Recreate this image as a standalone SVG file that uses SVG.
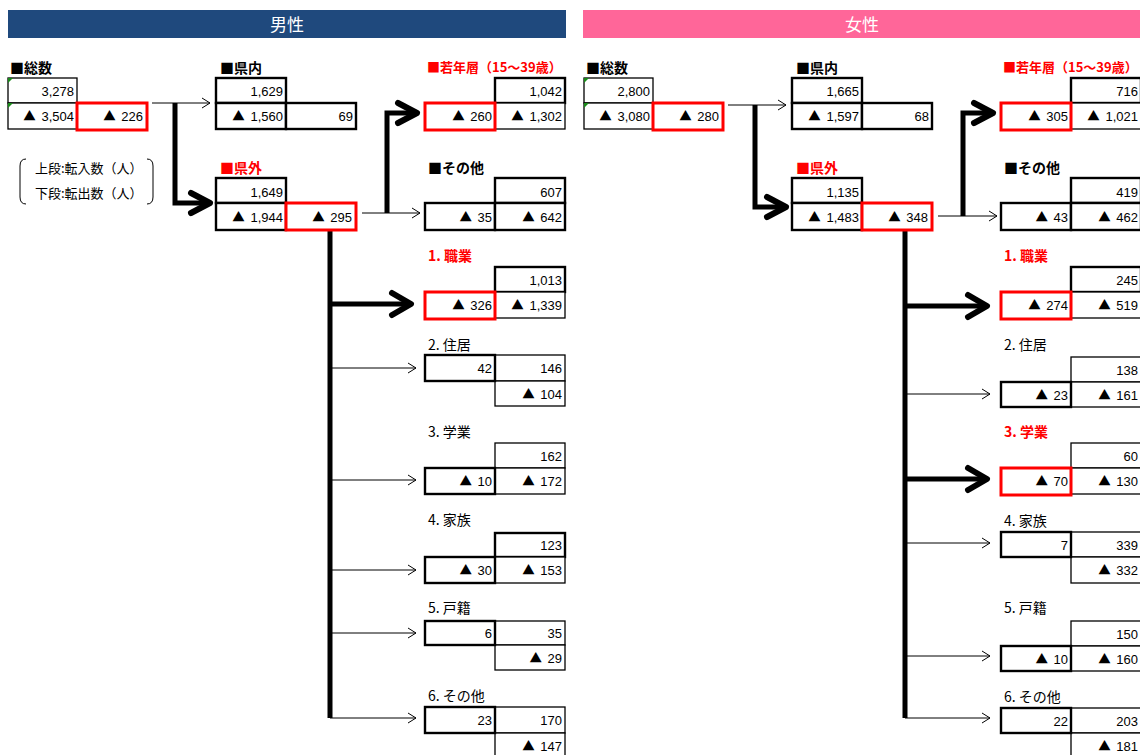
<svg xmlns="http://www.w3.org/2000/svg" width="1140" height="755" viewBox="0 0 1140 755">
<style>
.c{fill:#fff;stroke:#000;stroke-width:1.3}
.k{fill:#fff;stroke:#000;stroke-width:2.4}
.r{fill:#fff;stroke:#f00;stroke-width:3}
.n{font-family:"Liberation Sans","Noto Sans CJK JP",sans-serif;font-size:13px;text-anchor:end;fill:#000}
.tr{font-family:"Noto Sans CJK JP",sans-serif;font-size:12.5px;letter-spacing:2px}
.lb{font-family:"Noto Sans CJK JP",sans-serif;font-size:14px;font-weight:bold;fill:#000}
.lr{font-family:"Noto Sans CJK JP",sans-serif;font-size:14px;font-weight:bold;fill:#f00}
.ly{font-family:"Noto Sans CJK JP",sans-serif;font-size:13px;font-weight:bold;fill:#f00}
.ln{font-family:"Noto Sans CJK JP",sans-serif;font-size:14px;fill:#000}
.lg{font-family:"Noto Sans CJK JP",sans-serif;font-size:13px;fill:#000}
.hd{font-family:"Noto Sans CJK JP",sans-serif;font-size:17px;fill:#fff;text-anchor:middle}
.t{fill:none;stroke:#000;stroke-width:1}
.T{fill:none;stroke:#000;stroke-width:5}
.ch{fill:none;stroke:#000;stroke-width:6;stroke-linecap:round;stroke-linejoin:round}
.g{fill:#1a8a1a}
</style>
<rect x="8" y="10" width="558" height="28" fill="#1F497D"/>
<text class="hd" x="287" y="31">男性</text>
<rect x="583" y="10" width="557" height="28" fill="#FF6699"/>
<text class="hd" x="862" y="31">女性</text>

<g id="legend">
<path class="t" stroke="#444" d="M26,159 Q20,159 20,166 V197 Q20,204 26,204 M147,159 Q153,159 153,166 V197 Q153,204 147,204"/>
<text class="lg" x="35" y="173">上段:転入数（人）</text>
<text class="lg" x="35" y="198">下段:転出数（人）</text>
</g>

<g id="connectors">
<!-- male -->
<path class="t" d="M152,103 H210 M202,98 L210,103 L202,108"/>
<path class="T" d="M175,103 V203 H206"/>
<path class="ch" d="M191,193 L210,203 L191,213"/>
<path class="t" d="M362,213 H420 M412,208 L420,213 L412,218"/>
<path class="T" d="M387,213 V113 H414"/>
<path class="ch" d="M398,103 L417,113 L398,123"/>
<path class="T" d="M330,230 V718"/>
<path class="T" d="M330,304 H408"/>
<path class="ch" d="M392,293 L411,304 L392,315"/>
<path class="t" d="M330,368 H416 M408,363 L416,368 L408,373"/>
<path class="t" d="M330,480 H416 M408,475 L416,480 L408,485"/>
<path class="t" d="M330,570 H416 M408,565 L416,570 L408,575"/>
<path class="t" d="M330,633 H416 M408,628 L416,633 L408,638"/>
<path class="t" d="M330,718 H416 M408,713 L416,718 L408,723"/>
<!-- female -->
<path class="t" d="M728,105 H786 M778,100 L786,105 L778,110"/>
<path class="T" d="M755,105 V207 H782"/>
<path class="ch" d="M767,197 L786,207 L767,217"/>
<path class="t" d="M938,216 H997 M989,211 L997,216 L989,221"/>
<path class="T" d="M963,216 V113 H990"/>
<path class="ch" d="M974,103 L993,113 L974,123"/>
<path class="T" d="M905,230 V718"/>
<path class="T" d="M905,306 H984"/>
<path class="ch" d="M968,295 L987,306 L968,317"/>
<path class="t" d="M905,394 H990 M982,389 L990,394 L982,399"/>
<path class="T" d="M905,479 H984"/>
<path class="ch" d="M968,468 L987,479 L968,490"/>
<path class="t" d="M905,543 H990 M982,538 L990,543 L982,548"/>
<path class="t" d="M905,656 H990 M982,651 L990,656 L982,661"/>
<path class="t" d="M905,718 H990 M982,713 L990,718 L982,723"/>
</g>

<!-- ===== male nodes ===== -->
<g id="m-total">
<text class="lb" x="10" y="73">■総数</text>
<rect class="c" x="8" y="78" width="69" height="25"/>
<rect class="c" x="8" y="103" width="69" height="26"/>
<rect class="r" x="77" y="103" width="70" height="27"/>
<polygon class="g" points="8,78 13,78 8,83"/>
<polygon class="g" points="8,103 13,103 8,108"/>
<text class="n" x="74" y="96">3,278</text>
<text class="n" x="74" y="121"><tspan class="tr">▲</tspan> 3,504</text>
<text class="n" x="143" y="121"><tspan class="tr">▲</tspan> 226</text>
</g>
<g id="m-kennai">
<text class="lb" x="220" y="73">■県内</text>
<rect class="k" x="216" y="78" width="70" height="25"/>
<rect class="k" x="216" y="103" width="70" height="26"/>
<rect class="k" x="286" y="103" width="70" height="26"/>
<text class="n" x="283" y="96">1,629</text>
<text class="n" x="283" y="121"><tspan class="tr">▲</tspan> 1,560</text>
<text class="n" x="353" y="121">69</text>
</g>
<g id="m-kengai">
<text class="lr" x="220" y="173">■県外</text>
<rect class="k" x="216" y="178" width="70" height="25"/>
<rect class="k" x="216" y="203" width="70" height="27"/>
<rect class="r" x="286" y="203" width="70" height="27"/>
<text class="n" x="283" y="197">1,649</text>
<text class="n" x="283" y="222"><tspan class="tr">▲</tspan> 1,944</text>
<text class="n" x="352" y="222"><tspan class="tr">▲</tspan> 295</text>
</g>
<g id="m-young">
<text class="ly" x="427" y="72">■若年層（15～39歳）</text>
<rect class="k" x="495" y="78" width="70" height="25"/>
<rect class="c" x="495" y="103" width="70" height="26"/>
<rect class="r" x="425" y="103" width="70" height="27"/>
<text class="n" x="562" y="96">1,042</text>
<text class="n" x="492" y="121"><tspan class="tr">▲</tspan> 260</text>
<text class="n" x="562" y="121"><tspan class="tr">▲</tspan> 1,302</text>
</g>
<g id="m-other">
<text class="lb" x="428" y="173">■その他</text>
<rect class="k" x="495" y="178" width="70" height="25"/>
<rect class="k" x="425" y="203" width="70" height="27"/>
<rect class="k" x="495" y="203" width="70" height="27"/>
<text class="n" x="562" y="197">607</text>
<text class="n" x="492" y="222"><tspan class="tr">▲</tspan> 35</text>
<text class="n" x="562" y="222"><tspan class="tr">▲</tspan> 642</text>
</g>
<g id="m-job">
<text class="lr" x="428" y="261">1. 職業</text>
<rect class="k" x="495" y="267" width="70" height="25"/>
<rect class="c" x="495" y="292" width="70" height="26"/>
<rect class="r" x="425" y="292" width="70" height="27"/>
<text class="n" x="562" y="285">1,013</text>
<text class="n" x="492" y="310"><tspan class="tr">▲</tspan> 326</text>
<text class="n" x="562" y="310"><tspan class="tr">▲</tspan> 1,339</text>
</g>
<g id="m-house">
<text class="ln" x="428" y="350">2. 住居</text>
<rect class="c" x="495" y="355" width="70" height="26"/>
<rect class="c" x="495" y="381" width="70" height="25"/>
<rect class="k" x="425" y="355" width="70" height="26"/>
<text class="n" x="492" y="373">42</text>
<text class="n" x="562" y="373">146</text>
<text class="n" x="562" y="399"><tspan class="tr">▲</tspan> 104</text>
</g>
<g id="m-study">
<text class="ln" x="428" y="437">3. 学業</text>
<rect class="c" x="495" y="443" width="70" height="25"/>
<rect class="c" x="495" y="468" width="70" height="26"/>
<rect class="k" x="425" y="468" width="70" height="26"/>
<text class="n" x="562" y="461">162</text>
<text class="n" x="492" y="486"><tspan class="tr">▲</tspan> 10</text>
<text class="n" x="562" y="486"><tspan class="tr">▲</tspan> 172</text>
</g>
<g id="m-family">
<text class="ln" x="428" y="525">4. 家族</text>
<rect class="k" x="495" y="533" width="70" height="24"/>
<rect class="c" x="495" y="557" width="70" height="26"/>
<rect class="k" x="425" y="557" width="70" height="26"/>
<text class="n" x="562" y="550">123</text>
<text class="n" x="492" y="575"><tspan class="tr">▲</tspan> 30</text>
<text class="n" x="562" y="575"><tspan class="tr">▲</tspan> 153</text>
</g>
<g id="m-koseki">
<text class="ln" x="428" y="613">5. 戸籍</text>
<rect class="c" x="495" y="621" width="70" height="24"/>
<rect class="c" x="495" y="645" width="70" height="25"/>
<rect class="k" x="425" y="621" width="70" height="24"/>
<text class="n" x="492" y="638">6</text>
<text class="n" x="562" y="638">35</text>
<text class="n" x="562" y="663"><tspan class="tr">▲</tspan> 29</text>
</g>
<g id="m-etc">
<text class="ln" x="428" y="701">6. その他</text>
<rect class="c" x="495" y="707" width="70" height="26"/>
<rect class="c" x="495" y="733" width="70" height="25"/>
<rect class="k" x="425" y="707" width="70" height="26"/>
<text class="n" x="492" y="725">23</text>
<text class="n" x="562" y="725">170</text>
<text class="n" x="562" y="751"><tspan class="tr">▲</tspan> 147</text>
</g>

<!-- ===== female nodes ===== -->
<g id="f-total">
<text class="lb" x="586" y="73">■総数</text>
<rect class="c" x="584" y="78" width="69" height="25"/>
<rect class="c" x="584" y="103" width="69" height="26"/>
<rect class="r" x="653" y="103" width="70" height="27"/>
<polygon class="g" points="584,78 589,78 584,83"/>
<polygon class="g" points="584,103 589,103 584,108"/>
<text class="n" x="650" y="96">2,800</text>
<text class="n" x="650" y="121"><tspan class="tr">▲</tspan> 3,080</text>
<text class="n" x="719" y="121"><tspan class="tr">▲</tspan> 280</text>
</g>
<g id="f-kennai">
<text class="lb" x="796" y="73">■県内</text>
<rect class="k" x="792" y="78" width="70" height="25"/>
<rect class="k" x="792" y="103" width="70" height="26"/>
<rect class="k" x="862" y="103" width="70" height="26"/>
<text class="n" x="859" y="96">1,665</text>
<text class="n" x="859" y="121"><tspan class="tr">▲</tspan> 1,597</text>
<text class="n" x="929" y="121">68</text>
</g>
<g id="f-kengai">
<text class="lr" x="796" y="173">■県外</text>
<rect class="k" x="792" y="178" width="70" height="25"/>
<rect class="k" x="792" y="203" width="70" height="27"/>
<rect class="r" x="862" y="203" width="70" height="27"/>
<text class="n" x="859" y="197">1,135</text>
<text class="n" x="859" y="222"><tspan class="tr">▲</tspan> 1,483</text>
<text class="n" x="928" y="222"><tspan class="tr">▲</tspan> 348</text>
</g>
<g id="f-young">
<text class="ly" x="1003" y="72">■若年層（15～39歳）</text>
<rect class="k" x="1071" y="78" width="70" height="25"/>
<rect class="c" x="1071" y="103" width="70" height="26"/>
<rect class="r" x="1001" y="103" width="70" height="27"/>
<text class="n" x="1138" y="96">716</text>
<text class="n" x="1068" y="121"><tspan class="tr">▲</tspan> 305</text>
<text class="n" x="1138" y="121"><tspan class="tr">▲</tspan> 1,021</text>
</g>
<g id="f-other">
<text class="lb" x="1004" y="173">■その他</text>
<rect class="k" x="1071" y="178" width="70" height="25"/>
<rect class="k" x="1001" y="203" width="70" height="27"/>
<rect class="k" x="1071" y="203" width="70" height="27"/>
<text class="n" x="1138" y="197">419</text>
<text class="n" x="1068" y="222"><tspan class="tr">▲</tspan> 43</text>
<text class="n" x="1138" y="222"><tspan class="tr">▲</tspan> 462</text>
</g>
<g id="f-job">
<text class="lr" x="1004" y="261">1. 職業</text>
<rect class="k" x="1071" y="267" width="70" height="25"/>
<rect class="c" x="1071" y="292" width="70" height="26"/>
<rect class="r" x="1001" y="292" width="70" height="27"/>
<text class="n" x="1138" y="285">245</text>
<text class="n" x="1068" y="310"><tspan class="tr">▲</tspan> 274</text>
<text class="n" x="1138" y="310"><tspan class="tr">▲</tspan> 519</text>
</g>
<g id="f-house">
<text class="ln" x="1004" y="350">2. 住居</text>
<rect class="c" x="1071" y="357" width="70" height="25"/>
<rect class="c" x="1071" y="382" width="70" height="25"/>
<rect class="k" x="1001" y="382" width="70" height="25"/>
<text class="n" x="1138" y="375">138</text>
<text class="n" x="1068" y="400"><tspan class="tr">▲</tspan> 23</text>
<text class="n" x="1138" y="400"><tspan class="tr">▲</tspan> 161</text>
</g>
<g id="f-study">
<text class="lr" x="1004" y="437">3. 学業</text>
<rect class="c" x="1071" y="443" width="70" height="25"/>
<rect class="c" x="1071" y="468" width="70" height="26"/>
<rect class="r" x="1001" y="468" width="70" height="27"/>
<text class="n" x="1138" y="461">60</text>
<text class="n" x="1068" y="486"><tspan class="tr">▲</tspan> 70</text>
<text class="n" x="1138" y="486"><tspan class="tr">▲</tspan> 130</text>
</g>
<g id="f-family">
<text class="ln" x="1004" y="526">4. 家族</text>
<rect class="c" x="1071" y="532" width="70" height="25"/>
<rect class="c" x="1071" y="557" width="70" height="26"/>
<rect class="k" x="1001" y="532" width="70" height="25"/>
<text class="n" x="1068" y="550">7</text>
<text class="n" x="1138" y="550">339</text>
<text class="n" x="1138" y="575"><tspan class="tr">▲</tspan> 332</text>
</g>
<g id="f-koseki">
<text class="ln" x="1004" y="613">5. 戸籍</text>
<rect class="c" x="1071" y="621" width="70" height="25"/>
<rect class="c" x="1071" y="646" width="70" height="25"/>
<rect class="k" x="1001" y="646" width="70" height="25"/>
<text class="n" x="1138" y="639">150</text>
<text class="n" x="1068" y="664"><tspan class="tr">▲</tspan> 10</text>
<text class="n" x="1138" y="664"><tspan class="tr">▲</tspan> 160</text>
</g>
<g id="f-etc">
<text class="ln" x="1004" y="702">6. その他</text>
<rect class="c" x="1071" y="708" width="70" height="25"/>
<rect class="c" x="1071" y="733" width="70" height="25"/>
<rect class="k" x="1001" y="708" width="70" height="25"/>
<text class="n" x="1068" y="726">22</text>
<text class="n" x="1138" y="726">203</text>
<text class="n" x="1138" y="751"><tspan class="tr">▲</tspan> 181</text>
</g>
</svg>
